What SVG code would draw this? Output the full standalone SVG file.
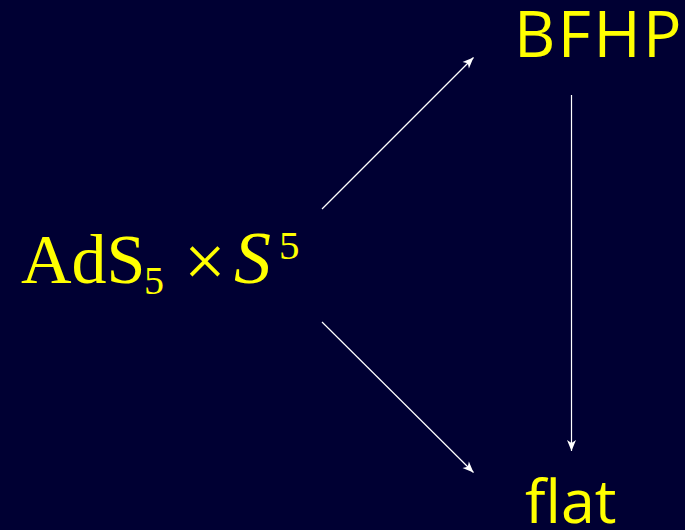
<svg xmlns="http://www.w3.org/2000/svg" width="685" height="530" viewBox="0 0 685 530">
<defs>
<style>
.lbl{fill:#ffff00}
.serif{font-family:"Liberation Serif","DejaVu Serif",serif}
.sans{font-family:"Open Sans","DejaVu Sans",sans-serif}
.edge{stroke:#ffffff;stroke-width:1.2;fill:none;marker-end:url(#ah)}
</style>
<marker id="ah" markerUnits="userSpaceOnUse" markerWidth="14" markerHeight="12" viewBox="-12 -6 14 12" refX="0" refY="0" orient="auto">
<path d="M0,0 L-11,-4.5 L-8,0 L-11,4.5 Z" fill="#ffffff"/>
</marker>
</defs>
<rect width="685" height="530" fill="#000033"/>
<g id="connectors">
<line class="edge" x1="322" y1="209" x2="473.5" y2="57.5"/>
<line class="edge" x1="322" y1="322" x2="473.5" y2="472.5"/>
<line class="edge" x1="571.5" y1="95" x2="571.5" y2="451"/>
</g>
<g id="node-ads">
<text class="lbl serif" x="21" y="283" font-size="70">AdS</text>
<text class="lbl serif" x="144" y="294" font-size="40">5</text>
<text class="lbl serif" x="184" y="286" font-size="74">×</text>
<text class="lbl serif" x="234" y="283" font-size="74" font-style="italic">S</text>
<text class="lbl serif" x="279" y="259" font-size="41">5</text>
</g>
<g id="node-bfhp">
<text class="lbl sans" x="514" y="57" font-size="64" letter-spacing="2.5">BFHP</text>
</g>
<g id="node-flat">
<text class="lbl sans" x="525" y="523" font-size="61">flat</text>
</g>
</svg>
